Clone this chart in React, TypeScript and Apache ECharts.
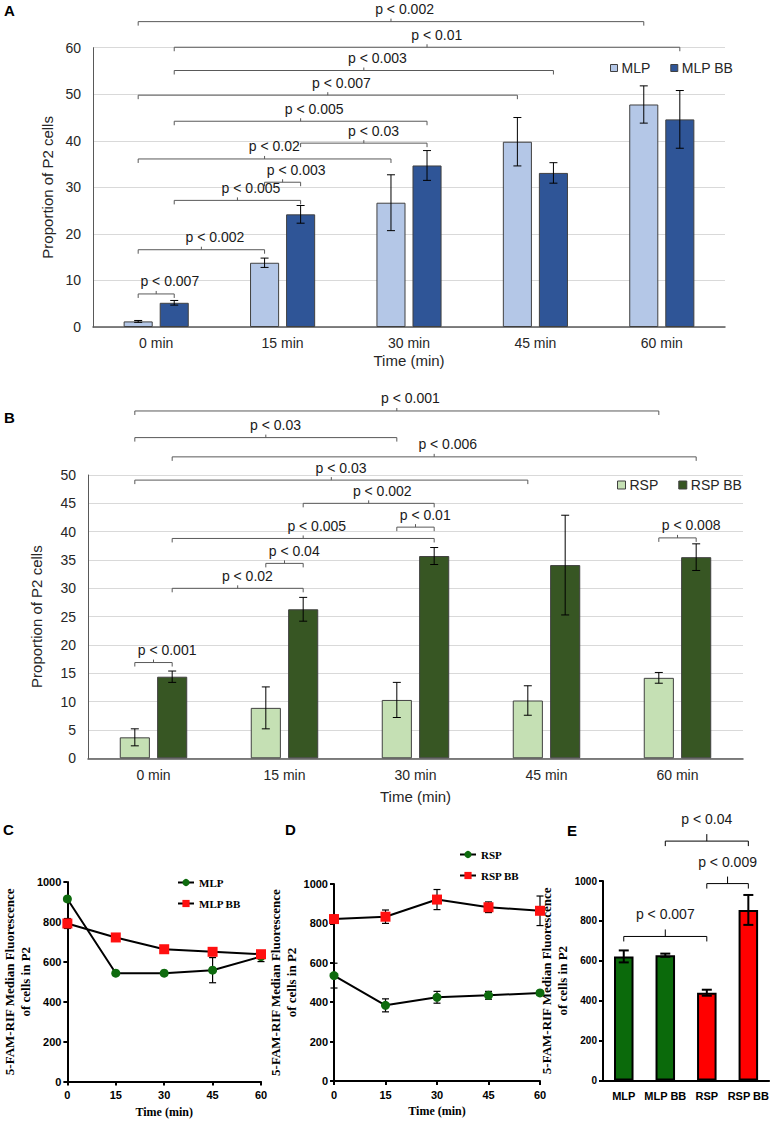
import React, { useEffect, useRef } from "react";
import * as echarts from "echarts";

// ---------- Panel A / B data ----------
const TIME_CATS = ["0 min", "15 min", "30 min", "45 min", "60 min"];

const MLP = [1.2, 13.8, 26.7, 39.8, 47.8];
const MLP_ERR = [0.2, 1.0, 6.0, 5.2, 4.0];
const MLP_BB = [5.2, 24.2, 34.7, 33.1, 44.6];
const MLP_BB_ERR = [0.5, 1.9, 3.2, 2.2, 6.2];

const RSP = [3.7, 8.9, 10.3, 10.2, 14.2];
const RSP_ERR = [1.5, 3.7, 3.1, 2.6, 0.95];
const RSP_BB = [14.4, 26.3, 35.7, 34.1, 35.5];
const RSP_BB_ERR = [1.0, 2.1, 1.5, 8.8, 2.35];

// [category 1, group 1 (0 = plain, 1 = BB), category 2, group 2, level, label]
const A_BRACKETS: any[] = [
  [0, 0, 4, 0, 65.6, "p < 0.002"],
  [0, 1, 4, 1, 60.1, "p < 0.01"],
  [0, 1, 3, 1, 55.1, "p < 0.003"],
  [0, 0, 3, 0, 49.8, "p < 0.007"],
  [0, 1, 2, 1, 44.2, "p < 0.005"],
  [1, 1, 2, 1, 39.5, "p < 0.03"],
  [0, 0, 2, 0, 36.1, "p < 0.02"],
  [1, 0, 1, 1, 31.1, "p < 0.003"],
  [0, 1, 1, 1, 27.2, "p < 0.005"],
  [0, 0, 1, 0, 16.6, "p < 0.002"],
  [0, 0, 0, 1, 7.1, "p < 0.007"],
];

const B_BRACKETS: any[] = [
  [0, 0, 4, 0, 61.3, "p < 0.001"],
  [0, 0, 2, 0, 56.6, "p < 0.03"],
  [0, 1, 4, 1, 53.2, "p < 0.006"],
  [0, 0, 3, 0, 49.1, "p < 0.03"],
  [1, 1, 2, 1, 45.0, "p < 0.002"],
  [2, 0, 2, 1, 40.8, "p < 0.01"],
  [0, 1, 2, 1, 38.8, "p < 0.005"],
  [1, 0, 1, 1, 34.4, "p < 0.04"],
  [0, 1, 1, 1, 30.0, "p < 0.02"],
  [0, 0, 0, 1, 16.9, "p < 0.001"],
  [4, 0, 4, 1, 38.9, "p < 0.008"],
];

// ---------- Panel C / D data ----------
const TIMES = [0, 15, 30, 45, 60];
const C_MLP = [915, 543, 543, 558, 626];
const C_MLP_ERR = [10, 8, 8, 63, 25];
const C_MLP_BB = [792, 722, 663, 650, 638];
const C_MLP_BB_ERR = [25, 12, 12, 15, 18];

const D_RSP = [535, 384, 425, 435, 447];
const D_RSP_ERR = [63, 33, 30, 20, 10];
const D_RSP_BB = [822, 834, 921, 882, 864];
const D_RSP_BB_ERR = [20, 34, 51, 27, 75];

// ---------- Panel E data ----------
const E_CATS = ["MLP", "MLP BB", "RSP", "RSP BB"];
const E_VALUES = [622, 628, 440, 855];
const E_ERR = [30, 8, 15, 75];
// [category 1, category 2, level, label]
const E_BRACKETS: any[] = [
  [0, 2, 722, "p < 0.007"],
  [2, 3, 987, "p < 0.009"],
  [1, 3, 1200, "p < 0.04"],
];

// ---------- styles ----------
const SANS = "'Liberation Sans', Arial, Helvetica, sans-serif";
const NARROW = "'Liberation Sans Narrow', 'Arial Narrow', 'Liberation Sans', sans-serif";
const SERIF = "'Liberation Serif', 'Times New Roman', serif";
const E_COLORS = ["#0b6a0b", "#0b6a0b", "#ff0000", "#ff0000"];

const BAR_W = 0.23;
const BAR_GAP = 0.24;
const OFF = (BAR_W * (1 + BAR_GAP)) / 2;
const gx = (cat: number, grp: number) => cat + (grp ? OFF : -OFF);

function errorSeries(xAxisIndex: number, yAxisIndex: number, data: number[][], color: string, width: number, cap: number, z: number) {
  return {
    type: "custom",
    xAxisIndex,
    yAxisIndex,
    clip: false,
    silent: true,
    z,
    encode: { x: 0, y: [1, 2] },
    data,
    renderItem: (params: any, api: any) => {
      const x = api.value(0);
      const lo = api.value(1);
      const hi = api.value(2);
      const t = api.coord([x, hi]);
      const b = api.coord([x, lo]);
      const st = { stroke: color, lineWidth: width, fill: "none" };
      return {
        type: "group",
        children: [
          { type: "line", shape: { x1: t[0], y1: t[1], x2: b[0], y2: b[1] }, style: st },
          { type: "line", shape: { x1: t[0] - cap, y1: t[1], x2: t[0] + cap, y2: t[1] }, style: st },
          { type: "line", shape: { x1: b[0] - cap, y1: b[1], x2: b[0] + cap, y2: b[1] }, style: st },
        ],
      };
    },
  };
}

function bracketSeries(
  xAxisIndex: number,
  yAxisIndex: number,
  data: number[][],
  labels: string[],
  opt: { color: string; endTick: number; midTick: number; labelGap: number; anchorLt: boolean }
) {
  return {
    type: "custom",
    xAxisIndex,
    yAxisIndex,
    clip: false,
    silent: true,
    z: 5,
    encode: { x: [0, 1], y: 2 },
    data,
    renderItem: (params: any, api: any) => {
      const p1 = api.coord([api.value(0), api.value(2)]);
      const p2 = api.coord([api.value(1), api.value(2)]);
      const y = p1[1];
      const mx = (p1[0] + p2[0]) / 2;
      const st = { stroke: opt.color, lineWidth: 1, fill: "none" };
      return {
        type: "group",
        children: [
          {
            type: "polyline",
            shape: { points: [[p1[0], y + opt.endTick], [p1[0], y], [p2[0], y], [p2[0], y + opt.endTick]] },
            style: st,
          },
          { type: "line", shape: { x1: mx, y1: y, x2: mx, y2: y - opt.midTick }, style: st },
          {
            type: "text",
            x: opt.anchorLt ? mx - 15.8 : mx,
            y: y - opt.labelGap,
            style: {
              text: labels[params.dataIndex],
              fill: "#1a1a1a",
              fontSize: 14,
              fontFamily: SANS,
              align: opt.anchorLt ? "left" : "center",
              verticalAlign: "middle",
            },
          },
        ],
      };
    },
  };
}

const fmt = (n: string) => n.split("#")[0];

function buildOption() {
  const abBracketStyle = { color: "#595959", endTick: 4, midTick: 3, labelGap: 12.5, anchorLt: true };
  const eBracketStyle = { color: "#000", endTick: 5, midTick: 7, labelGap: 22, anchorLt: false };

  const catAxisAB = (gridIndex: number, nameGap: number, labelMargin: number) => ({
    type: "category",
    gridIndex,
    data: TIME_CATS,
    axisLine: { onZero: false, lineStyle: { color: "#595959", width: 1.5 } },
    axisTick: { show: false },
    axisLabel: { fontSize: 14, fontFamily: SANS, color: "#262626", margin: labelMargin },
    name: "Time (min)",
    nameLocation: "middle",
    nameGap,
    nameTextStyle: { fontSize: 15, fontFamily: SANS, color: "#262626" },
  });
  const hiddenAxis = (gridIndex: number, max: number) => ({
    type: "value",
    gridIndex,
    min: -0.5,
    max,
    show: false,
    axisLine: { onZero: false },
  });
  const valAxisAB = (gridIndex: number, max: number, interval: number, nameGap: number) => ({
    type: "value",
    gridIndex,
    min: 0,
    max,
    interval,
    axisLine: { show: true, onZero: false, lineStyle: { color: "#595959", width: 1 } },
    axisTick: { show: false },
    splitLine: { lineStyle: { color: "#d9d9d9", width: 1 } },
    axisLabel: { fontSize: 14, fontFamily: SANS, color: "#262626", margin: 12 },
    name: "Proportion of P2 cells",
    nameLocation: "middle",
    nameGap,
    nameTextStyle: { fontSize: 15, fontFamily: SANS, color: "#262626" },
  });
  const blackAxisLine = { show: true, onZero: false, lineStyle: { color: "#000", width: 2 } };
  const blackTick = { show: true, length: 4, lineStyle: { color: "#000", width: 2 } };
  const narrowLabel = { fontSize: 11, fontWeight: "bold", fontFamily: NARROW, color: "#000" };
  const timeAxis = (gridIndex: number) => ({
    type: "value",
    gridIndex,
    min: 0,
    max: 60,
    interval: 15,
    axisLine: blackAxisLine,
    axisTick: blackTick,
    splitLine: { show: false },
    axisLabel: { ...narrowLabel, margin: 8 },
    name: "Time (min)",
    nameLocation: "middle",
    nameGap: 24,
    nameTextStyle: { fontSize: 12, fontWeight: "bold", fontFamily: SERIF, color: "#000" },
  });
  const fluoAxis = (gridIndex: number, nameGap: number, labelSize: number) => ({
    type: "value",
    gridIndex,
    min: 0,
    max: 1000,
    interval: 200,
    axisLine: blackAxisLine,
    axisTick: blackTick,
    splitLine: { show: false },
    axisLabel: { ...narrowLabel, fontSize: labelSize, margin: 6, formatter: (v: number) => String(v) },
    name: "5-FAM-RIF Median Fluorescence\nof cells in P2",
    nameLocation: "middle",
    nameGap,
    nameTextStyle: { fontSize: 13, fontWeight: "bold", fontFamily: SERIF, color: "#000", lineHeight: 16 },
  });

  const barAB = (name: string, xi: number, yi: number, data: number[], color: string) => ({
    type: "bar",
    name,
    xAxisIndex: xi,
    yAxisIndex: yi,
    data,
    barWidth: BAR_W * 100 + "%",
    barGap: BAR_GAP * 100 + "%",
    itemStyle: { color, borderColor: "#404040", borderWidth: 1 },
    z: 2,
  });
  const errAB = (vals: number[], errs: number[], grp: number) =>
    vals.map((v, i) => [gx(i, grp), v - errs[i], v + errs[i]]);
  const bracketData = (br: any[]) => br.map((b) => [gx(b[0], b[1]), gx(b[2], b[3]), b[4]]);
  const lineErr = (vals: number[], errs: number[]) => vals.map((v, i) => [TIMES[i], v - errs[i], v + errs[i]]);
  const lineSeries = (name: string, xi: number, yi: number, vals: number[], symbol: string, size: number, color: string) => ({
    type: "line",
    name,
    xAxisIndex: xi,
    yAxisIndex: yi,
    data: vals.map((v, i) => [TIMES[i], v]),
    symbol,
    symbolSize: size,
    itemStyle: { color },
    lineStyle: { color: "#000", width: 2 },
    z: 4,
  });

  const legendAB = (names: string[], left: number, top: number, size: number) => ({
    data: names,
    left,
    top,
    padding: 0,
    icon: "rect",
    itemWidth: size,
    itemHeight: size,
    itemGap: 20,
    formatter: fmt,
    itemStyle: { borderColor: "#404040", borderWidth: 1 },
    textStyle: { fontSize: 14, fontFamily: SANS, color: "#262626", padding: [0, 0, 0, -1] },
  });
  const legendCD = (names: string[], left: number, top: number) => ({
    data: names,
    left,
    top,
    padding: 0,
    orient: "vertical",
    itemWidth: 16,
    itemHeight: 9,
    itemGap: 10,
    formatter: fmt,
    textStyle: { fontSize: 11, fontWeight: "bold", fontFamily: SERIF, color: "#000" },
  });

  const letter = (t: string, x: number, y: number) => ({
    type: "text",
    x,
    y,
    style: { text: t, fontSize: 15, fontWeight: "bold", fontFamily: SANS, fill: "#000", verticalAlign: "middle" },
  });

  return {
    animation: false,
    backgroundColor: "#fff",
    grid: [
      { left: 93, top: 47.7, width: 632, height: 279.3 },
      { left: 88, top: 475, width: 655, height: 283.3 },
      { left: 55, top: 882, width: 206, height: 199.5 },
      { left: 334, top: 884, width: 206, height: 197 },
      { left: 603, top: 881, width: 167, height: 199.5 },
    ],
    xAxis: [
      catAxisAB(0, 26, 9),
      hiddenAxis(0, 4.5),
      catAxisAB(1, 31, 10),
      hiddenAxis(1, 4.5),
      timeAxis(2),
      timeAxis(3),
      {
        type: "category",
        gridIndex: 4,
        data: E_CATS,
        axisLine: blackAxisLine,
        axisTick: { show: false },
        axisLabel: { ...narrowLabel, margin: 10, interval: 0 },
      },
      hiddenAxis(4, 3.5),
    ],
    yAxis: [
      valAxisAB(0, 60, 10, 38),
      valAxisAB(1, 50, 5, 44),
      fluoAxis(2, 30, 11),
      fluoAxis(3, 32, 11),
      fluoAxis(4, 27, 10),
    ],
    legend: [
      legendAB(["MLP#A", "MLP BB#A"], 610, 61, 7),
      legendAB(["RSP#B", "RSP BB#B"], 617, 478, 8),
      legendCD(["MLP#C", "MLP BB#C"], 177, 877),
      legendCD(["RSP#D", "RSP BB#D"], 459, 849),
    ],
    graphic: [
      letter("A", 4, 10),
      letter("B", 4, 417),
      letter("C", 3, 829),
      letter("D", 285, 829),
      letter("E", 567, 830),
    ],
    series: [
      // Panel A
      barAB("MLP#A", 0, 0, MLP, "#b4c7e7"),
      barAB("MLP BB#A", 0, 0, MLP_BB, "#2f5597"),
      errorSeries(1, 0, errAB(MLP, MLP_ERR, 0), "#000", 1, 4, 3),
      errorSeries(1, 0, errAB(MLP_BB, MLP_BB_ERR, 1), "#000", 1, 4, 3),
      bracketSeries(1, 0, bracketData(A_BRACKETS), A_BRACKETS.map((b) => b[5]), abBracketStyle),
      // Panel B
      barAB("RSP#B", 2, 1, RSP, "#c5e0b4"),
      barAB("RSP BB#B", 2, 1, RSP_BB, "#375623"),
      errorSeries(3, 1, errAB(RSP, RSP_ERR, 0), "#000", 1, 4, 3),
      errorSeries(3, 1, errAB(RSP_BB, RSP_BB_ERR, 1), "#000", 1, 4, 3),
      bracketSeries(3, 1, bracketData(B_BRACKETS), B_BRACKETS.map((b) => b[5]), abBracketStyle),
      // Panel C
      errorSeries(4, 2, lineErr(C_MLP, C_MLP_ERR), "#000", 1.2, 3.5, 2),
      errorSeries(4, 2, lineErr(C_MLP_BB, C_MLP_BB_ERR), "#000", 1.2, 3.5, 2),
      lineSeries("MLP#C", 4, 2, C_MLP, "circle", 9, "#0e6b0e"),
      lineSeries("MLP BB#C", 4, 2, C_MLP_BB, "rect", 10, "#ff1010"),
      // Panel D
      errorSeries(5, 3, lineErr(D_RSP, D_RSP_ERR), "#000", 1.2, 3.5, 2),
      errorSeries(5, 3, lineErr(D_RSP_BB, D_RSP_BB_ERR), "#000", 1.2, 3.5, 2),
      lineSeries("RSP#D", 5, 3, D_RSP, "circle", 9, "#0e6b0e"),
      lineSeries("RSP BB#D", 5, 3, D_RSP_BB, "rect", 10, "#ff1010"),
      // Panel E
      {
        type: "bar",
        name: "E",
        xAxisIndex: 6,
        yAxisIndex: 4,
        barWidth: "47%",
        data: E_VALUES.map((v, i) => ({ value: v, itemStyle: { color: E_COLORS[i] } })),
        itemStyle: { borderColor: "#000", borderWidth: 2 },
        z: 2,
      },
      errorSeries(7, 4, E_VALUES.map((v, i) => [i, v - E_ERR[i], v + E_ERR[i]]), "#000", 2, 5, 3),
      bracketSeries(
        7,
        4,
        E_BRACKETS.map((b) => [b[0], b[1], b[2]]),
        E_BRACKETS.map((b) => b[3]),
        eBracketStyle
      ),
    ],
  };
}

export default function App() {
  const ref = useRef<HTMLDivElement>(null);
  useEffect(() => {
    document.body.style.margin = "0";
    if (!ref.current) return;
    const chart = echarts.init(ref.current, null, { renderer: "svg" });
    chart.setOption(buildOption() as any);
    return () => chart.dispose();
  }, []);
  return <div ref={ref} style={{ width: 772, height: 1128 }} />;
}
